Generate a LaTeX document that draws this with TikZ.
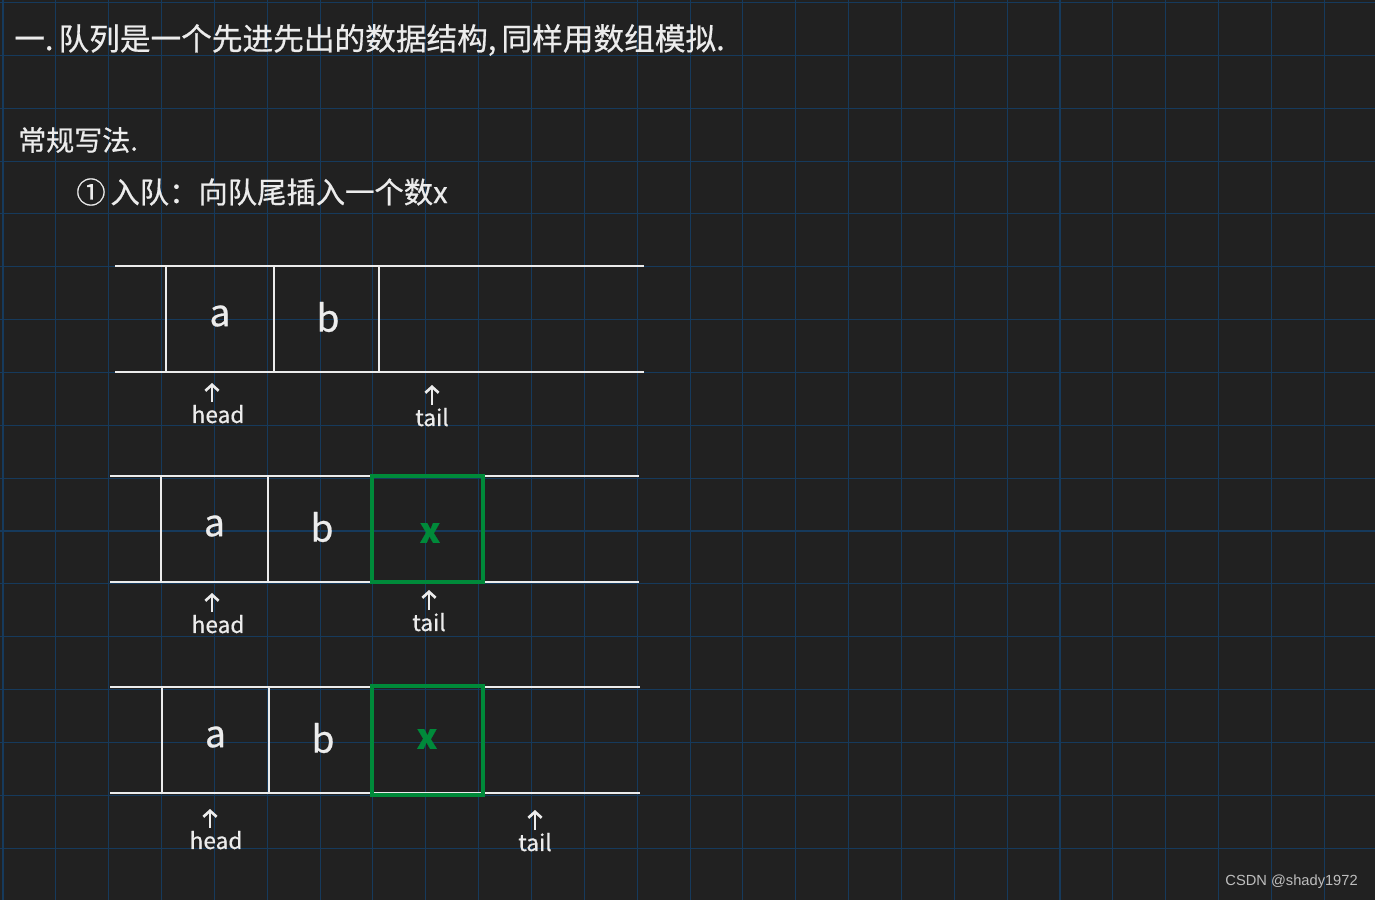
\documentclass[tikz,border=0pt]{standalone}
\usepackage{fontspec}
\setmainfont{Noto Sans CJK SC}[FakeBold=0.6]
\newfontfamily\markfont{Liberation Sans}
\usetikzlibrary{arrows.meta}
\usetikzlibrary{positioning}

\definecolor{boardbg}{RGB}{33,33,33}
\definecolor{gridblue}{RGB}{22,58,92}
\definecolor{chalk}{RGB}{236,236,236}
\definecolor{newgreen}{RGB}{0,138,58}
\definecolor{markgray}{RGB}{190,190,190}

\begin{document}
\begin{tikzpicture}[x=0.75pt,y=-0.75pt,
        gridline/.style={draw=gridblue,line width=0.8pt},
        rail/.style={draw=chalk,line width=2pt},
        newcell/.style={draw=newgreen,line width=3.4pt},
        ptr/.style={draw=chalk,line width=2pt,-{Straight Barb[length=4.5pt,width=10pt]}},
        title/.style={text=chalk,font=\fontsize{22}{26}\selectfont,anchor=west,inner sep=0pt},
        elem/.style={text=chalk,font=\fontsize{28}{32}\selectfont,inner sep=0pt},
        tag/.style={text=chalk,font=\fontsize{17}{20}\selectfont,inner sep=2pt,anchor=north}]
    \useasboundingbox (0,0) rectangle (1375,900);
    \fill[boardbg] (0,0) rectangle (1375,900);
    % grid
    \foreach \i in {0,...,25}
        \draw[gridline] ({3+52.85*\i},0) -- ({3+52.85*\i},900);
    \foreach \j in {0,...,17}
        \draw[gridline] (0,{2.5+52.85*\j}) -- (1375,{2.5+52.85*\j});
    % text
    \node[title,font=\fontsize{23}{27}\selectfont] (t1) at (14,40) {一.\,队列是一个先进先出的数据结构,\,同样用数组模拟.};
    \node[title,font=\fontsize{21}{25}\selectfont] (t2) at (18,140) {常规写法.};
    \node[title] (t3) at (76,192) {①\,入队：向队尾插入一个数x};
    % queues
    \foreach \q/\t/\l/\r/\sa/\sb/\hx/\hy/\tx/\ty in
            {1/266/115/644/166/274/212/402/432/405,
             2/476/110/639/161/268/212/612/429/610,
             3/687/110/640/162/269/210/828/535/830}{
        \draw[rail] (\l,\t) -- (\r,\t);
        \draw[rail] (\l,\t+106) -- (\r,\t+106);
        \draw[rail] (\sa,\t) -- (\sa,\t+106);
        \draw[rail] (\sb,\t) -- (\sb,\t+106);
        \node[elem] (a\q) at ({(\sa+\sb)/2},\t+50) {a};
        \node[elem] (b\q) at (\sb+54,\t+51) {b};
        \coordinate (hp\q) at (\hx,\hy-19);
        \coordinate (tp\q) at (\tx,\ty-20);
        \node[tag] (hd\q) at (\hx+6,\hy) {head};
        \node[tag] (tl\q) at (\tx,\ty) {tail};
        \draw[ptr] (hd\q.north -| hp\q) -- (hp\q);
        \draw[ptr] (tl\q.north -| tp\q) -- (tp\q);
    }
    \draw[rail] (379,266) -- (379,372);
    % inserted x
    \draw[newcell] (372,476) rectangle (483,582);
    \draw[newcell] (372,686) rectangle (483,795);
    \node[elem,text=newgreen,font=\fontsize{26}{30}\selectfont\bfseries] (x2) at (430,533) {x};
    \node[elem,text=newgreen,font=\fontsize{26}{30}\selectfont\bfseries] (x3) at (427,739) {x};
    % watermark
    \node[text=markgray,font=\markfont\fontsize{11}{13}\selectfont,anchor=east,inner sep=0pt] (wm) at (1358,882) {CSDN @shady1972};
\end{tikzpicture}
\end{document}
